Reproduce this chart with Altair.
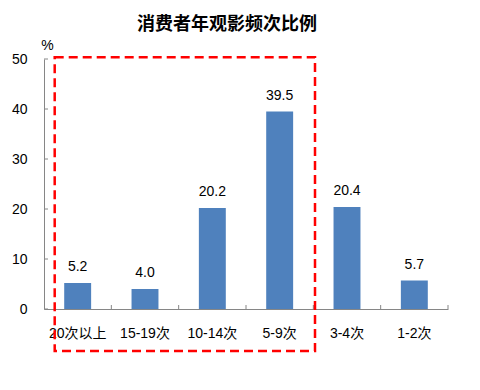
import altair as alt
import pandas as pd

categories = ["20次以上", "15-19次", "10-14次", "5-9次", "3-4次", "1-2次"]
values = [5.2, 4.0, 20.2, 39.5, 20.4, 5.7]
y_ticks = [0, 10, 20, 30, 40, 50]
boundaries = [1, 2, 3, 4, 5, 6]
title_text = "消费者年观影频次比例"

FONT = "Liberation Sans, Arial, Noto Sans CJK SC, sans-serif"
AXIS_COLOR = "#868686"

df = pd.DataFrame({"cat": categories, "val": values})
df["label"] = df["val"].map(lambda v: f"{v:.1f}")

W, H = 404, 250

x_enc = alt.X(
    "cat:N",
    sort=categories,
    scale=alt.Scale(paddingInner=0.6, paddingOuter=0.3),
    axis=alt.Axis(
        title=None, labelAngle=0, ticks=False, domainColor=AXIS_COLOR,
        labelPadding=17, labelFontSize=14, labelColor="#000000", labelFont=FONT,
    ),
)
y_enc = alt.Y(
    "val:Q",
    scale=alt.Scale(domain=[0, 50]),
    axis=alt.Axis(
        values=y_ticks, grid=False, ticks=False, domainColor=AXIS_COLOR,
        labelPadding=17, labelFontSize=14, labelColor="#000000", labelFont=FONT,
        title="%", titleAngle=0, titleX=3, titleY=-10, titleAlign="center",
        titleBaseline="alphabetic",
        titleFontWeight="normal", titleFontSize=14, titleFont=FONT,
    ),
)

bars = alt.Chart(df).mark_bar(color="#4F81BD").encode(x=x_enc, y=y_enc)
labels = alt.Chart(df).mark_text(
    dy=-9, baseline="bottom", fontSize=14, font=FONT, color="#000000"
).encode(x=alt.X("cat:N", sort=categories), y="val:Q", text="label:N")

ytick_df = pd.DataFrame({"t": y_ticks})
yticks = alt.Chart(ytick_df).mark_rule(color=AXIS_COLOR, strokeWidth=1).encode(
    y=alt.Y("t:Q", scale=alt.Scale(domain=[0, 50])),
    x=alt.value(0), x2=alt.value(4),
)

main = alt.layer(bars, labels, yticks)

xtick_df = pd.DataFrame({"b": boundaries})
xticks = alt.Chart(xtick_df).mark_rule(color=AXIS_COLOR, strokeWidth=1).encode(
    x=alt.X("b:Q", scale=alt.Scale(domain=[0, 6]), axis=None),
    y=alt.value(H - 4), y2=alt.value(H),
)

box = alt.Chart(alt.Data(values=[{"k": 1}])).mark_rect(
    fill=None, stroke="#FF0000", strokeWidth=2.5, strokeDash=[9, 5]
).encode(
    x=alt.value(10.7), x2=alt.value(271), y=alt.value(-1.7), y2=alt.value(292)
)

title = alt.Chart(alt.Data(values=[{"t": title_text}])).mark_text(
    fontSize=18, fontWeight="bold", font="Noto Sans CJK SC", color="#000000",
    align="center", baseline="middle",
).encode(x=alt.value(183), y=alt.value(-34), text="t:N")

chart = alt.layer(main, xticks, box, title).resolve_scale(x="independent").properties(
    width=W, height=H,
    autosize=alt.AutoSizeParams(type="none"),
    padding={"left": 44, "top": 59, "right": 32, "bottom": 81},
).configure_view(stroke=None)

chart.save("out.html", embed_options={"renderer": "svg", "actions": False})
